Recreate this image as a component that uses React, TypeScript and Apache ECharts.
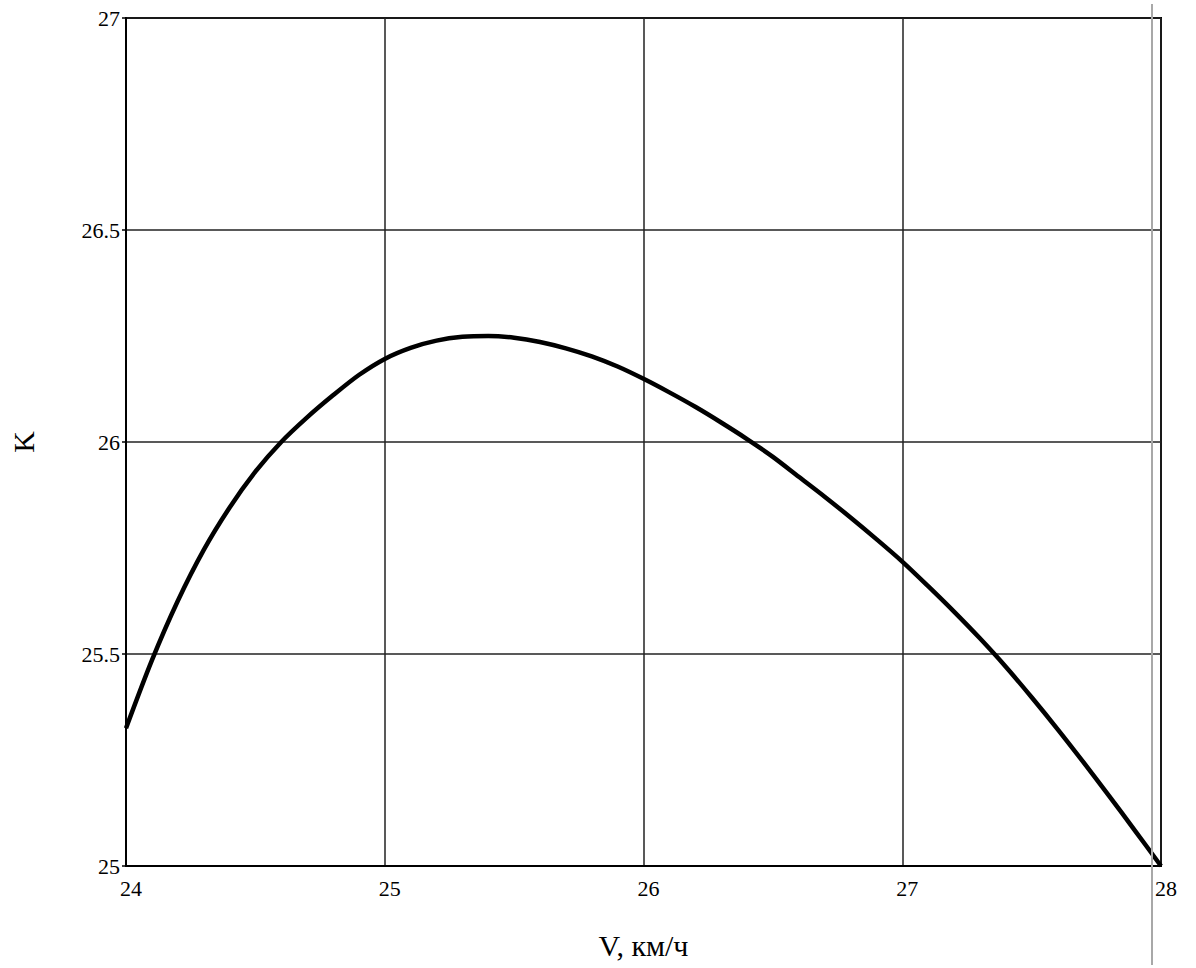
import React, { useEffect, useRef } from "react";
import * as echarts from "echarts";

const xValues = [
  24.0, 24.1, 24.2, 24.3, 24.4, 24.5, 24.6, 24.7, 24.8, 24.9,
  25.0, 25.1, 25.2, 25.3, 25.4, 25.5, 25.6, 25.7, 25.8, 25.9,
  26.0, 26.1, 26.2, 26.3, 26.4, 26.5, 26.6, 26.7, 26.8, 26.9,
  27.0, 27.1, 27.2, 27.3, 27.4, 27.5, 27.6, 27.7, 27.8, 27.9, 28.0,
];
const kValues = [
  25.325, 25.485, 25.625, 25.745, 25.845, 25.93, 26.0, 26.058, 26.11, 26.158,
  26.196, 26.222, 26.239, 26.248, 26.25, 26.246, 26.236, 26.221, 26.202, 26.178,
  26.149, 26.117, 26.083, 26.046, 26.007, 25.965, 25.918, 25.871, 25.822, 25.771,
  25.718, 25.66, 25.6, 25.537, 25.47, 25.398, 25.323, 25.245, 25.165, 25.083, 25.0,
];
const xTicks = [24, 25, 26, 27, 28];
const yTicks = [25, 25.5, 26, 26.5, 27];

const xName = "V, км/ч";
const yName = "K";

export default function App() {
  const ref = useRef<HTMLDivElement>(null);
  useEffect(() => {
    document.body.style.margin = "0";
    if (!ref.current) return;
    const chart = echarts.init(ref.current, undefined, { renderer: "svg" });
    const font = "Liberation Serif";
    chart.setOption({
      animation: false,
      backgroundColor: "#ffffff",
      grid: {
        left: 126,
        right: 35,
        top: 18,
        bottom: 102,
        show: true,
        borderColor: "#000",
        borderWidth: 2,
      },
      xAxis: {
        type: "value",
        min: xTicks[0],
        max: xTicks[xTicks.length - 1],
        interval: 1,
        name: xName,
        nameLocation: "middle",
        nameGap: 64,
        nameTextStyle: { fontFamily: font, fontSize: 30, color: "#000" },
        axisLine: { show: true, lineStyle: { color: "#000", width: 2 } },
        axisTick: { show: false },
        axisLabel: {
          fontFamily: font,
          fontSize: 22,
          color: "#000",
          margin: 11,
          padding: [0, 0, 0, 10],
          showMinLabel: true,
          showMaxLabel: true,
        },
        splitLine: { show: true, lineStyle: { color: "#222", width: 1.5 } },
      },
      yAxis: {
        type: "value",
        min: yTicks[0],
        max: yTicks[yTicks.length - 1],
        interval: 0.5,
        name: yName,
        nameLocation: "middle",
        nameGap: 88,
        nameTextStyle: { fontFamily: font, fontSize: 30, color: "#000" },
        axisLine: { show: true, lineStyle: { color: "#000", width: 2 } },
        axisTick: { show: true, inside: false, length: 4, lineStyle: { color: "#000", width: 1.5 } },
        axisLabel: {
          fontFamily: font,
          fontSize: 22,
          color: "#000",
          margin: 6,
          showMinLabel: true,
          showMaxLabel: true,
        },
        splitLine: { show: true, lineStyle: { color: "#222", width: 1.5 } },
      },
      series: [
        {
          type: "line",
          data: xValues.map((x, i) => [x, kValues[i]]),
          smooth: 0.3,
          showSymbol: false,
          lineStyle: { color: "#000", width: 4.5 },
          clip: false,
        },
      ],
      graphic: [
        {
          type: "line",
          shape: { x1: 1152, y1: 4, x2: 1152, y2: 965 },
          style: { stroke: "#a8a8a8", lineWidth: 2 },
          z: 100,
        },
      ],
    });
    return () => chart.dispose();
  }, []);
  return <div ref={ref} style={{ width: 1196, height: 968 }} />;
}
